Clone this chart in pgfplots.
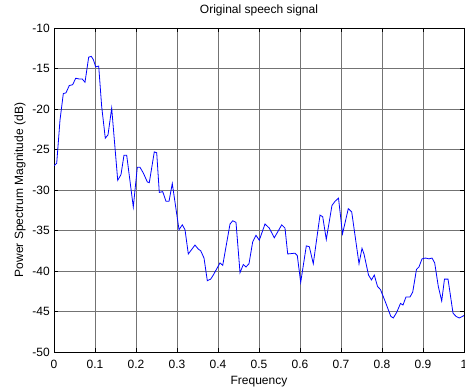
\documentclass[border=0pt]{standalone}
\usepackage{fontspec}
\setmainfont{Liberation Sans}
\usepackage{pgfplots}
\pgfplotsset{compat=1.18}
\begin{document}
\begin{tikzpicture}
\begin{axis}[
  width=410pt, height=324pt, scale only axis,
  xmin=0, xmax=1, ymin=-50, ymax=-10,
  xtick={0,0.1,...,1.0}, ytick={-50,-45,...,-10},
  xticklabels={0,0.1,0.2,0.3,0.4,0.5,0.6,0.7,0.8,0.9,1},
  /pgf/number format/assume math mode=true,
  /pgf/number format/fixed,
  tick align=inside, major tick length=4pt,
  tick style={black, line width=0.5pt},
  axis line style={black, line width=0.9pt},
  grid=major,
  major grid style={black!55, line width=0.6pt},
  tick label style={font=\fontsize{12}{14}\selectfont},
  xticklabel style={anchor=base, inner sep=0pt, yshift=-16pt},
  yticklabel style={anchor=east, inner sep=0pt, xshift=-4pt},
  title={Original speech signal},
  title style={at={(axis description cs:0.5,1.0247)}, anchor=base, font=\fontsize{12}{14}\selectfont, inner sep=0pt},
  xlabel={Frequency},
  xlabel style={at={(axis description cs:0.5,-0.0988)}, anchor=base, font=\fontsize{12}{14}\selectfont, inner sep=0pt},
  ylabel={Power Spectrum Magnitude (dB)},
  ylabel style={at={(axis description cs:-0.0756,0.5)}, anchor=base, rotate=0, font=\fontsize{12}{14}\selectfont, inner sep=0pt},
]
\addplot[color={rgb,255:red,0;green,0;blue,255}, line width=0.8pt] coordinates {
(0.0000,-27.0) (0.0066,-26.7) (0.0146,-21.4) (0.0227,-18.1) (0.0293,-18.0)
(0.0373,-17.1) (0.0456,-17.0) (0.0529,-16.2) (0.0617,-16.3) (0.0690,-16.3)
(0.0756,-16.7) (0.0846,-13.6) (0.0910,-13.5) (0.0959,-13.9) (0.1017,-14.8)
(0.1090,-14.7) (0.1163,-19.7) (0.1251,-23.6) (0.1317,-23.2) (0.1407,-19.9)
(0.1554,-28.8) (0.1634,-28.1) (0.1707,-25.7) (0.1773,-25.7) (0.1934,-32.1)
(0.2032,-27.2) (0.2098,-27.2) (0.2178,-27.9) (0.2276,-29.0) (0.2324,-29.1)
(0.2446,-25.3) (0.2505,-25.4) (0.2568,-30.3) (0.2651,-30.2) (0.2732,-31.4)
(0.2805,-31.4) (0.2885,-29.2) (0.3049,-34.9) (0.3129,-34.3) (0.3195,-34.9)
(0.3276,-37.9) (0.3439,-36.8) (0.3520,-37.3) (0.3578,-37.5) (0.3659,-38.4)
(0.3739,-41.2) (0.3822,-41.0) (0.3885,-40.5) (0.4049,-39.0) (0.4115,-39.3)
(0.4293,-34.2) (0.4359,-33.8) (0.4439,-34.0) (0.4537,-40.2) (0.4617,-39.2)
(0.4683,-39.5) (0.4756,-39.1) (0.4846,-36.4) (0.4927,-35.6) (0.5007,-36.2)
(0.5146,-34.2) (0.5251,-34.7) (0.5373,-35.9) (0.5554,-34.3) (0.5634,-34.7)
(0.5700,-37.9) (0.5878,-37.8) (0.5934,-38.1) (0.6017,-41.4) (0.6154,-36.9)
(0.6227,-37.0) (0.6324,-39.1) (0.6488,-33.1) (0.6554,-33.3) (0.6641,-36.1)
(0.6780,-31.9) (0.6854,-31.4) (0.6939,-31.0) (0.7037,-35.4) (0.7178,-32.3)
(0.7261,-32.7) (0.7439,-39.1) (0.7512,-37.2) (0.7561,-37.9) (0.7671,-40.5)
(0.7744,-41.1) (0.7812,-40.5) (0.7890,-41.9) (0.7963,-42.3) (0.8073,-43.7)
(0.8215,-45.6) (0.8276,-45.8) (0.8359,-45.1) (0.8451,-44.0) (0.8512,-44.2)
(0.8585,-43.2) (0.8683,-43.2) (0.8749,-42.6) (0.8841,-39.8) (0.8902,-39.5)
(0.8976,-38.5) (0.9061,-38.4) (0.9146,-38.5) (0.9220,-38.4) (0.9285,-39.0)
(0.9373,-41.9) (0.9456,-43.7) (0.9524,-41.0) (0.9610,-41.0) (0.9732,-45.2)
(0.9805,-45.6) (0.9885,-45.8) (1.0000,-45.5)
};
\coordinate (bl) at (rel axis cs:0,0);
\coordinate (tr) at (rel axis cs:1,1);
\end{axis}
\pgfresetboundingbox
\path ([shift={(-54pt,-36pt)}]bl) rectangle ([shift={(1pt,28pt)}]tr);
\end{tikzpicture}
\end{document}
